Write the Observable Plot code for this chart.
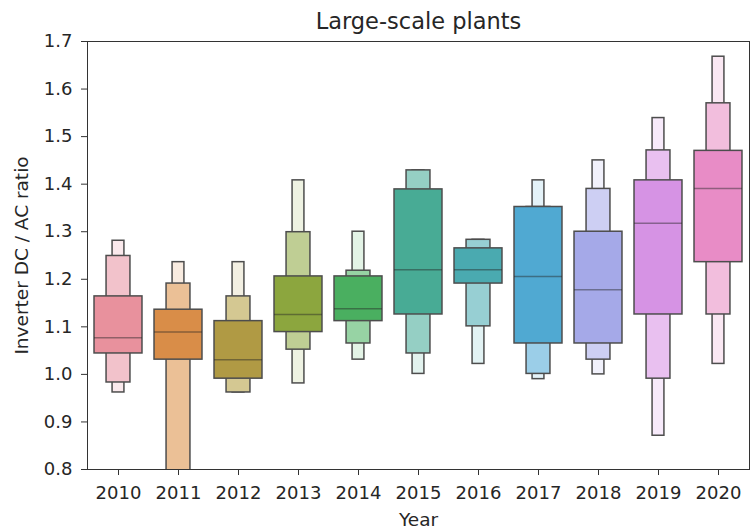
<!DOCTYPE html>
<html>
<head>
<meta charset="utf-8">
<script src="https://cdn.jsdelivr.net/npm/d3@7"></script>
<script src="https://cdn.jsdelivr.net/npm/@observablehq/plot@0.6"></script>
<style>
  html, body { margin: 0; padding: 0; background: #fff; }
  #chart { width: 750px; height: 532px; }
</style>
</head>
<body>
<div id="chart"></div>
<script>
// Years (categories)
const years = ["2010","2011","2012","2013","2014","2015","2016","2017","2018","2019","2020"];
// Letter values
const medians = [1.077, 1.089, 1.031, 1.126, 1.138, 1.220, 1.220, 1.206, 1.178, 1.318, 1.391];
const boxLo   = [1.044, 1.031, 0.991, 1.089, 1.112, 1.126, 1.191, 1.065, 1.065, 1.126, 1.236];
const boxHi   = [1.164, 1.136, 1.112, 1.206, 1.206, 1.389, 1.265, 1.352, 1.300, 1.408, 1.470];
const lv2Lo   = [0.983, 0.720, 0.962, 1.052, 1.065, 1.044, 1.101, 1.001, 1.031, 0.991, 1.126];
const lv2Hi   = [1.249, 1.191, 1.164, 1.299, 1.218, 1.429, 1.283, 1.352, 1.390, 1.471, 1.570];
const lv3Lo   = [0.962, 0.700, 0.962, 0.981, 1.031, 1.001, 1.022, 0.990, 1.000, 0.871, 1.022];
const lv3Hi   = [1.281, 1.236, 1.236, 1.408, 1.300, 1.429, 1.283, 1.408, 1.450, 1.539, 1.668];
// Colours per year: main box, second level, outer level
const colMain = ["#e8919d","#d98d48","#b09a44","#8ca63e","#4aaf60","#48ab95","#4aaab0","#50a9d2","#a5a9e8","#d693e4","#e88cc6"];
const colLv2  = ["#f2c2cb","#ebc096","#d4c892","#bfce94","#97d3a4","#95cfc4","#97cfd3","#9bcee8","#cdcff3","#e9c0f0","#f2bedd"];
const colLv3  = ["#fae9ec","#f8ebe0","#f2efe2","#eef2e2","#e3f3e6","#e2f2ee","#e2f2f3","#e4f2f8","#f1f1fb","#f7eafa","#fae8f3"];
const yTicks = [0.8, 0.9, 1.0, 1.1, 1.2, 1.3, 1.4, 1.5, 1.6, 1.7];

const rows = years.map((year, i) => ({
  year, median: medians[i], lo1: boxLo[i], hi1: boxHi[i],
  lo2: lv2Lo[i], hi2: lv2Hi[i], lo3: lv3Lo[i], hi3: lv3Hi[i],
  c1: colMain[i], c2: colLv2[i], c3: colLv3[i]
}));

const W = 750, H = 532;
const mL = 87, mR = 1, mT = 41, mB = 63;
const step = (W - mL - mR) / years.length;
const edge = "#4d4d4d";

const chart = Plot.plot({
  width: W, height: H,
  marginLeft: mL, marginRight: mR, marginTop: mT, marginBottom: mB,
  style: { fontFamily: "DejaVu Sans, sans-serif", fontSize: "18px", color: "#262626", background: "#fff" },
  x: { type: "band", domain: years, padding: 0, label: null },
  y: { domain: [0.8, 1.7], label: null },
  marks: [
    Plot.barY(rows, { x: "year", y1: "lo3", y2: "hi3", fill: "c3", stroke: edge, strokeWidth: 1.5,
      insetLeft: step * 0.4, insetRight: step * 0.4, clip: true }),
    Plot.barY(rows, { x: "year", y1: "lo2", y2: "hi2", fill: "c2", stroke: edge, strokeWidth: 1.5,
      insetLeft: step * 0.3, insetRight: step * 0.3, clip: true }),
    Plot.barY(rows, { x: "year", y1: "lo1", y2: "hi1", fill: "c1", stroke: edge, strokeWidth: 1.5,
      insetLeft: step * 0.1, insetRight: step * 0.1, clip: true }),
    Plot.tickY(rows, { x: "year", y: "median", stroke: "#262626", strokeOpacity: 0.45, strokeWidth: 1.5,
      insetLeft: step * 0.1, insetRight: step * 0.1 }),
    Plot.frame({ stroke: "#333", strokeWidth: 1 }),
    Plot.axisY({ ticks: yTicks, tickFormat: d3.format(".1f"), tickSize: 6, tickPadding: 9, fontSize: 18, label: null, stroke: "#333" }),
    Plot.axisX({ tickSize: 6, tickPadding: 11, fontSize: 18, label: null, stroke: "#333" }),
    Plot.text(["Large-scale plants"], { frameAnchor: "top", lineAnchor: "middle", dy: -20, fontSize: 22.5, fill: "#262626" }),
    Plot.text(["Inverter DC / AC ratio"], { frameAnchor: "left", textAnchor: "middle", lineAnchor: "middle", dx: -65, rotate: -90, fontSize: 18.5, fill: "#262626" }),
    Plot.text(["Year"], { frameAnchor: "bottom", lineAnchor: "middle", dy: 51, fontSize: 18.5, fill: "#262626" })
  ]
});
document.getElementById("chart").appendChild(chart);
</script>
</body>
</html>
